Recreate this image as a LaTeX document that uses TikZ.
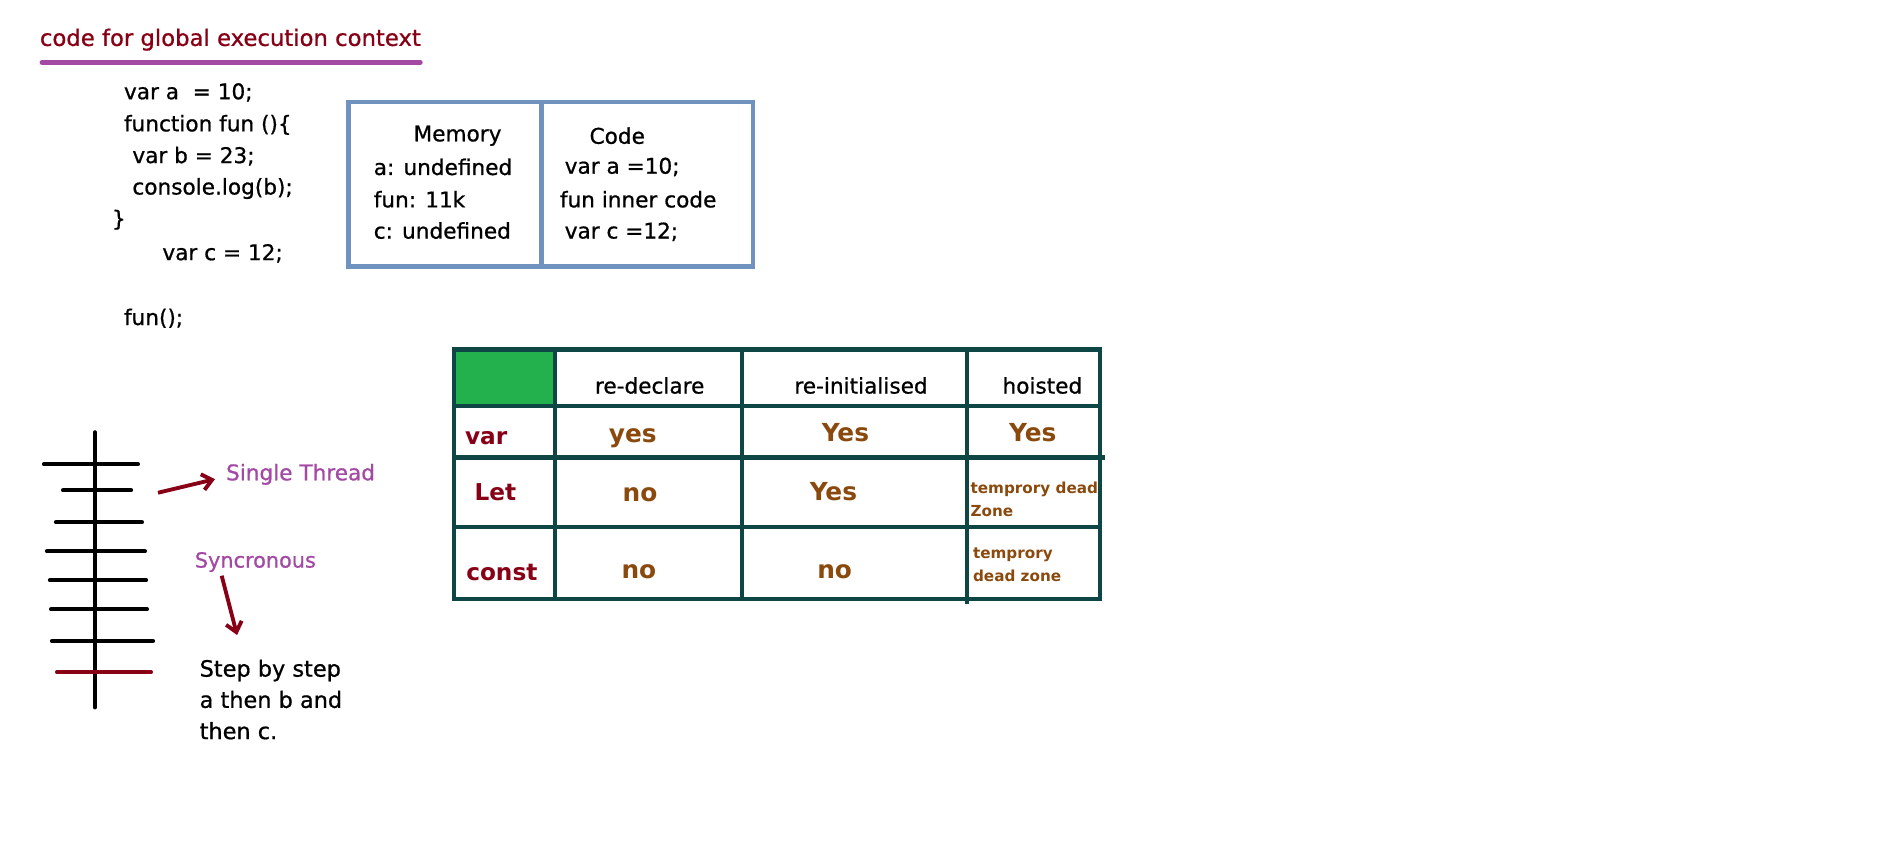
\documentclass[tikz,border=0pt]{standalone}
\usepackage{fontspec}
\setmainfont{DejaVu Sans}[FakeBold=0.8]
\newfontfamily\bfam{DejaVu Sans Bold}
\usetikzlibrary{arrows.meta}
\definecolor{dred}{HTML}{880015}
\definecolor{purp}{HTML}{A349A4}
\definecolor{boxblue}{HTML}{7092BE}
\definecolor{tblc}{HTML}{0E4545}
\definecolor{grn}{HTML}{22B14C}
\definecolor{brn}{HTML}{8A4A0E}
\begin{document}
\begin{tikzpicture}[x=0.75pt,y=-0.75pt,
  txt/.style={anchor=west,inner sep=0pt,font=\fontsize{13.5}{16}\selectfont},
  ctxt/.style={inner sep=0pt,font=\fontsize{13.5}{16}\selectfont},
  val/.style={inner sep=0pt,text height=13pt,text depth=3pt,text=brn,font=\bfam\fontsize{15.5}{17}\selectfont},
  rowlab/.style={anchor=west,inner sep=0pt,text height=12pt,text depth=3pt,text=dred,font=\bfam\fontsize{14.5}{17}\selectfont},
  small/.style={anchor=west,inner sep=0pt,text=brn,align=left,font=\bfam\fontsize{9.5}{14.5}\selectfont},
  rung/.style={line width=2.6pt,line cap=round},
  arr/.style={dred,line width=2.4pt,-{Straight Barb[length=6pt,width=10pt]}},
  tline/.style={tblc,line width=2.6pt},
  bline/.style={boxblue,line width=3pt}]
\useasboundingbox (0,0) rectangle (1568,709);
% title
\node[txt,text=dred,font=\fontsize{14.2}{17}\selectfont] (title) at (33,33) {code for global execution context};
\draw[purp,line width=3pt,line cap=round] (35,52) -- (350,52);
% code
\node[txt] (c1) at (103,77) {var a~~= 10;};
\node[txt] (c2) at (103,104) {function fun ()\{};
\node[txt] (c3) at (110,130) {var b = 23;};
\node[txt] (c4) at (110,157) {console.log(b);};
\node[txt] (c5) at (93,183) {\}};
\node[txt] (c6) at (135,211) {var c = 12;};
\node[txt] (c7) at (103,265) {fun();};
% memory / code box
\draw[bline] (290,85) rectangle (627,222);
\draw[bline] (451,85) -- (451,222);
\node[ctxt] (mem) at (381,113) {Memory};
\node[txt] (m1) at (311,139) {a: undefined};
\node[txt] (m2) at (311,166) {fun: 11k};
\node[txt] (m3) at (311,192) {c: undefined};
\node[ctxt] (cod) at (514,113) {Code};
\node[txt] (k1) at (470,139) {var a =10;};
\node[txt] (k2) at (466,166) {fun inner code};
\node[txt] (k3) at (470,193) {var c =12;};
% table
\fill[grn] (378,291) rectangle (462,338);
\draw[tline] (378,291) rectangle (916,499);
\draw[tline] (462,291) -- (462,499);
\draw[tline] (618,291) -- (618,499);
\draw[tline] (805,291) -- (805,503);
\draw[tline] (378,338) -- (916,338);
\draw[tline] (378,381) -- (920,381);
\draw[tline] (378,439) -- (916,439);
\node[ctxt] (h1) at (541,321) {re-declare};
\node[ctxt] (h2) at (717,321) {re-initialised};
\node[ctxt] (h3) at (868,321) {hoisted};
\node[rowlab] (r1) at (387,364) {var};
\node[rowlab] (r2) at (395,411) {Let};
\node[rowlab] (r3) at (388,477) {const};
\node[val] (v11) at (527,362) {yes};
\node[val] (v12) at (704,361) {Yes};
\node[val] (v13) at (860,361) {Yes};
\node[val] (v21) at (533,411) {no};
\node[val] (v22) at (694,410) {Yes};
\node[small] (v23) at (808,416) {temprory dead\\Zone};
\node[val] (v31) at (532,475) {no};
\node[val] (v32) at (695,475) {no};
\node[small] (v33) at (810,470) {temprory\\dead zone};
% ladder
\draw[rung] (79,360) -- (79,589);
\draw[rung] (36.6,386.6) -- (114.9,386.6);
\draw[rung] (52.5,408.3) -- (109.1,408.3);
\draw[rung] (46.6,434.9) -- (118.2,434.9);
\draw[rung] (39.1,459.1) -- (120.7,459.1);
\draw[rung] (41.6,483.2) -- (121.6,483.2);
\draw[rung] (42.5,507.4) -- (122.4,507.4);
\draw[rung] (43.3,533.8) -- (127.4,533.8);
\draw[rung,dred] (47.5,559.8) -- (125.7,559.8);
% labels and arrows
\node[txt,text=purp] (st) at (188,395) {Single Thread};
\node[txt,text=purp,font=\fontsize{13}{16}\selectfont] (sy) at (162,468) {Syncronous};
\node[txt,align=left,font=\fontsize{14}{19.5}\selectfont,anchor=north west] (sbs) at (166,549) {Step by step\\a then b and\\then c.};
\coordinate (a1s) at (131.6,410.3);
\coordinate (a1e) at (179,399);
\coordinate (a2s) at (184.6,479.4);
\coordinate (a2e) at (197.4,528.8);
\draw[arr] (a1s) -- (a1e);
\draw[arr] (a2s) -- (a2e);
\end{tikzpicture}
\end{document}
